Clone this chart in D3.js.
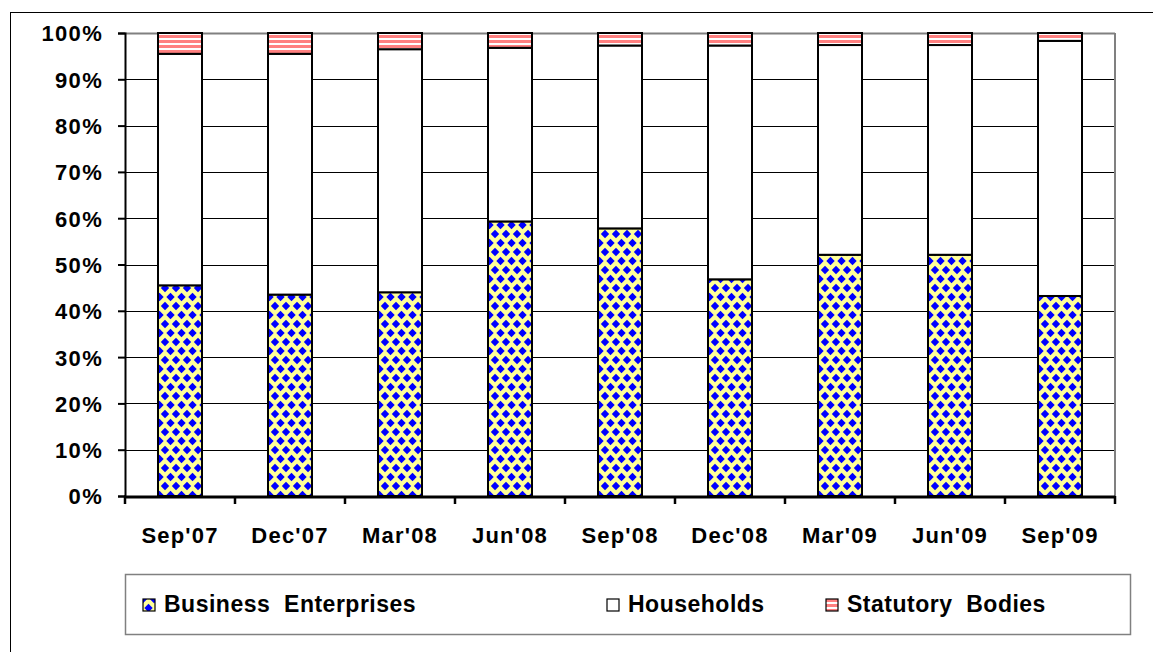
<!DOCTYPE html>
<html>
<head>
<meta charset="utf-8">
<script src="https://cdn.jsdelivr.net/npm/d3@7"></script>
<style>
  html, body { margin: 0; padding: 0; background: #fff; }
  svg text { font-family: "Liberation Sans", Arial, sans-serif; font-weight: bold; fill: #000; }
</style>
</head>
<body>
<svg id="chart" width="1153" height="652"></svg>
<script>
// Quarter-end periods
const categories = ["Sep'07", "Dec'07", "Mar'08", "Jun'08", "Sep'08", "Dec'08", "Mar'09", "Jun'09", "Sep'09"];
// Share of each holder group (percent of total)
const businessEnterprises = [45.5, 43.5, 44.0, 59.3, 57.8, 46.8, 52.1, 52.1, 43.2];
const households          = [50.0, 52.0, 52.5, 37.5, 39.5, 50.5, 45.3, 45.3, 55.1];
const statutoryBodies     = [4.5, 4.5, 3.5, 3.2, 2.7, 2.7, 2.6, 2.6, 1.7];
const seriesNames = ["Business  Enterprises", "Households", "Statutory  Bodies"];
const yTicks = [0, 10, 20, 30, 40, 50, 60, 70, 80, 90, 100];

const svg = d3.select("#chart");
const W = 1153, H = 652;
const plot = { left: 125, right: 1115, top: 33, bottom: 496 };

// Fill patterns
const defs = svg.append("defs");
const PW = 11, PH = 18;
const diamond = defs.append("pattern")
  .attr("id", "pat-business").attr("patternUnits", "userSpaceOnUse")
  .attr("width", PW).attr("height", PH);
diamond.append("rect").attr("width", PW).attr("height", PH).attr("fill", "#FFFF99");
const dPath = (cx, cy, r) => `M${cx},${cy - r}L${cx + r},${cy}L${cx},${cy + r}L${cx - r},${cy}Z`;
[[PW / 2, PH / 2], [0, 0], [PW, 0], [0, PH], [PW, PH]].forEach(([cx, cy]) =>
  diamond.append("path").attr("d", dPath(cx, cy, 4.2)).attr("fill", "#0000FF"));

const stripes = defs.append("pattern")
  .attr("id", "pat-statutory").attr("patternUnits", "userSpaceOnUse")
  .attr("width", 10).attr("height", 5);
stripes.append("rect").attr("width", 10).attr("height", 5).attr("fill", "#FFFFFF");
stripes.append("rect").attr("y", 0).attr("width", 10).attr("height", 3).attr("fill", "#FF8080");

const fills = ["url(#pat-business)", "#FFFFFF", "url(#pat-statutory)"];

// Outer chart border
svg.append("rect").attr("x", 10.5).attr("y", 12.5).attr("width", W).attr("height", H)
  .attr("fill", "none").attr("stroke", "#000").attr("stroke-width", 1);

const x = d3.scaleBand().domain(categories).range([plot.left, plot.right]).paddingInner(0.6).paddingOuter(0.3);
const y = d3.scaleLinear().domain([0, 100]).range([plot.bottom, plot.top]);

// Gridlines
svg.append("g").selectAll("line").data(yTicks.filter(t => t > 0)).join("line")
  .attr("x1", plot.left).attr("x2", plot.right)
  .attr("y1", d => Math.round(y(d)) + 0.5).attr("y2", d => Math.round(y(d)) + 0.5)
  .attr("stroke", d => d === 100 ? "#808080" : "#000").attr("stroke-width", d => d === 100 ? 2 : 1);
// Plot-area right edge
svg.append("line").attr("x1", plot.right).attr("x2", plot.right)
  .attr("y1", plot.top).attr("y2", plot.bottom).attr("stroke", "#808080").attr("stroke-width", 2);

// Stacked data
const rows = categories.map((c, i) => ({ cat: c, s0: businessEnterprises[i], s1: households[i], s2: statutoryBodies[i] }));
const stack = d3.stack().keys(["s0", "s1", "s2"]);
const layers = stack(rows);

svg.append("g").selectAll("g").data(layers).join("g")
  .attr("fill", (d, i) => fills[i])
  .selectAll("rect").data(d => d).join("rect")
  .attr("x", d => x(d.data.cat))
  .attr("width", x.bandwidth())
  .attr("y", d => y(Math.min(100, d[1])))
  .attr("height", d => y(d[0]) - y(Math.min(100, d[1])))
  .attr("stroke", "#000").attr("stroke-width", 2);

// Y axis
const yAxis = svg.append("g").attr("transform", `translate(${plot.left},0)`)
  .call(d3.axisLeft(y).tickValues(yTicks).tickFormat(d => d + "%").tickSize(7).tickPadding(15));
yAxis.select(".domain").attr("stroke", "#000").attr("stroke-width", 2);
yAxis.selectAll(".tick line").attr("stroke", "#000").attr("stroke-width", 2);
yAxis.selectAll("text").style("font-size", "22px").style("letter-spacing", "1.3px")
  .attr("font-family", null).attr("dy", "0.36em");

// X axis: ticks at category boundaries
const boundaries = d3.range(categories.length + 1).map(i => plot.left + i * (plot.right - plot.left) / categories.length);
svg.append("line").attr("x1", plot.left - 1).attr("x2", plot.right)
  .attr("y1", plot.bottom + 1).attr("y2", plot.bottom + 1).attr("stroke", "#000").attr("stroke-width", 3);
svg.append("g").selectAll("line").data(boundaries).join("line")
  .attr("x1", d => d).attr("x2", d => d).attr("y1", plot.bottom).attr("y2", plot.bottom + 8)
  .attr("stroke", "#000").attr("stroke-width", 2.5);
svg.append("g").selectAll("text").data(categories).join("text")
  .attr("x", d => x(d) + x.bandwidth() / 2).attr("y", 543)
  .attr("text-anchor", "middle").style("font-size", "22px").style("letter-spacing", "1.2px")
  .text(d => d);

// Legend
svg.append("rect").attr("x", 125.5).attr("y", 574.5).attr("width", 1005).attr("height", 60)
  .attr("fill", "#fff").attr("stroke", "#808080").attr("stroke-width", 1.5);
const legendX = [143, 607, 826];
const lg = svg.append("g").selectAll("g").data(seriesNames).join("g")
  .attr("transform", (d, i) => `translate(${legendX[i]},599)`);
lg.append("rect").attr("width", 12).attr("height", 12).attr("fill", (d, i) => fills[i])
  .attr("stroke", "#000").attr("stroke-width", 1.2);
lg.append("text").attr("x", 21).attr("y", 13).style("font-size", "23px").style("letter-spacing", "0.5px")
  .attr("xml:space", "preserve").style("white-space", "pre").text(d => d);
</script>
</body>
</html>
